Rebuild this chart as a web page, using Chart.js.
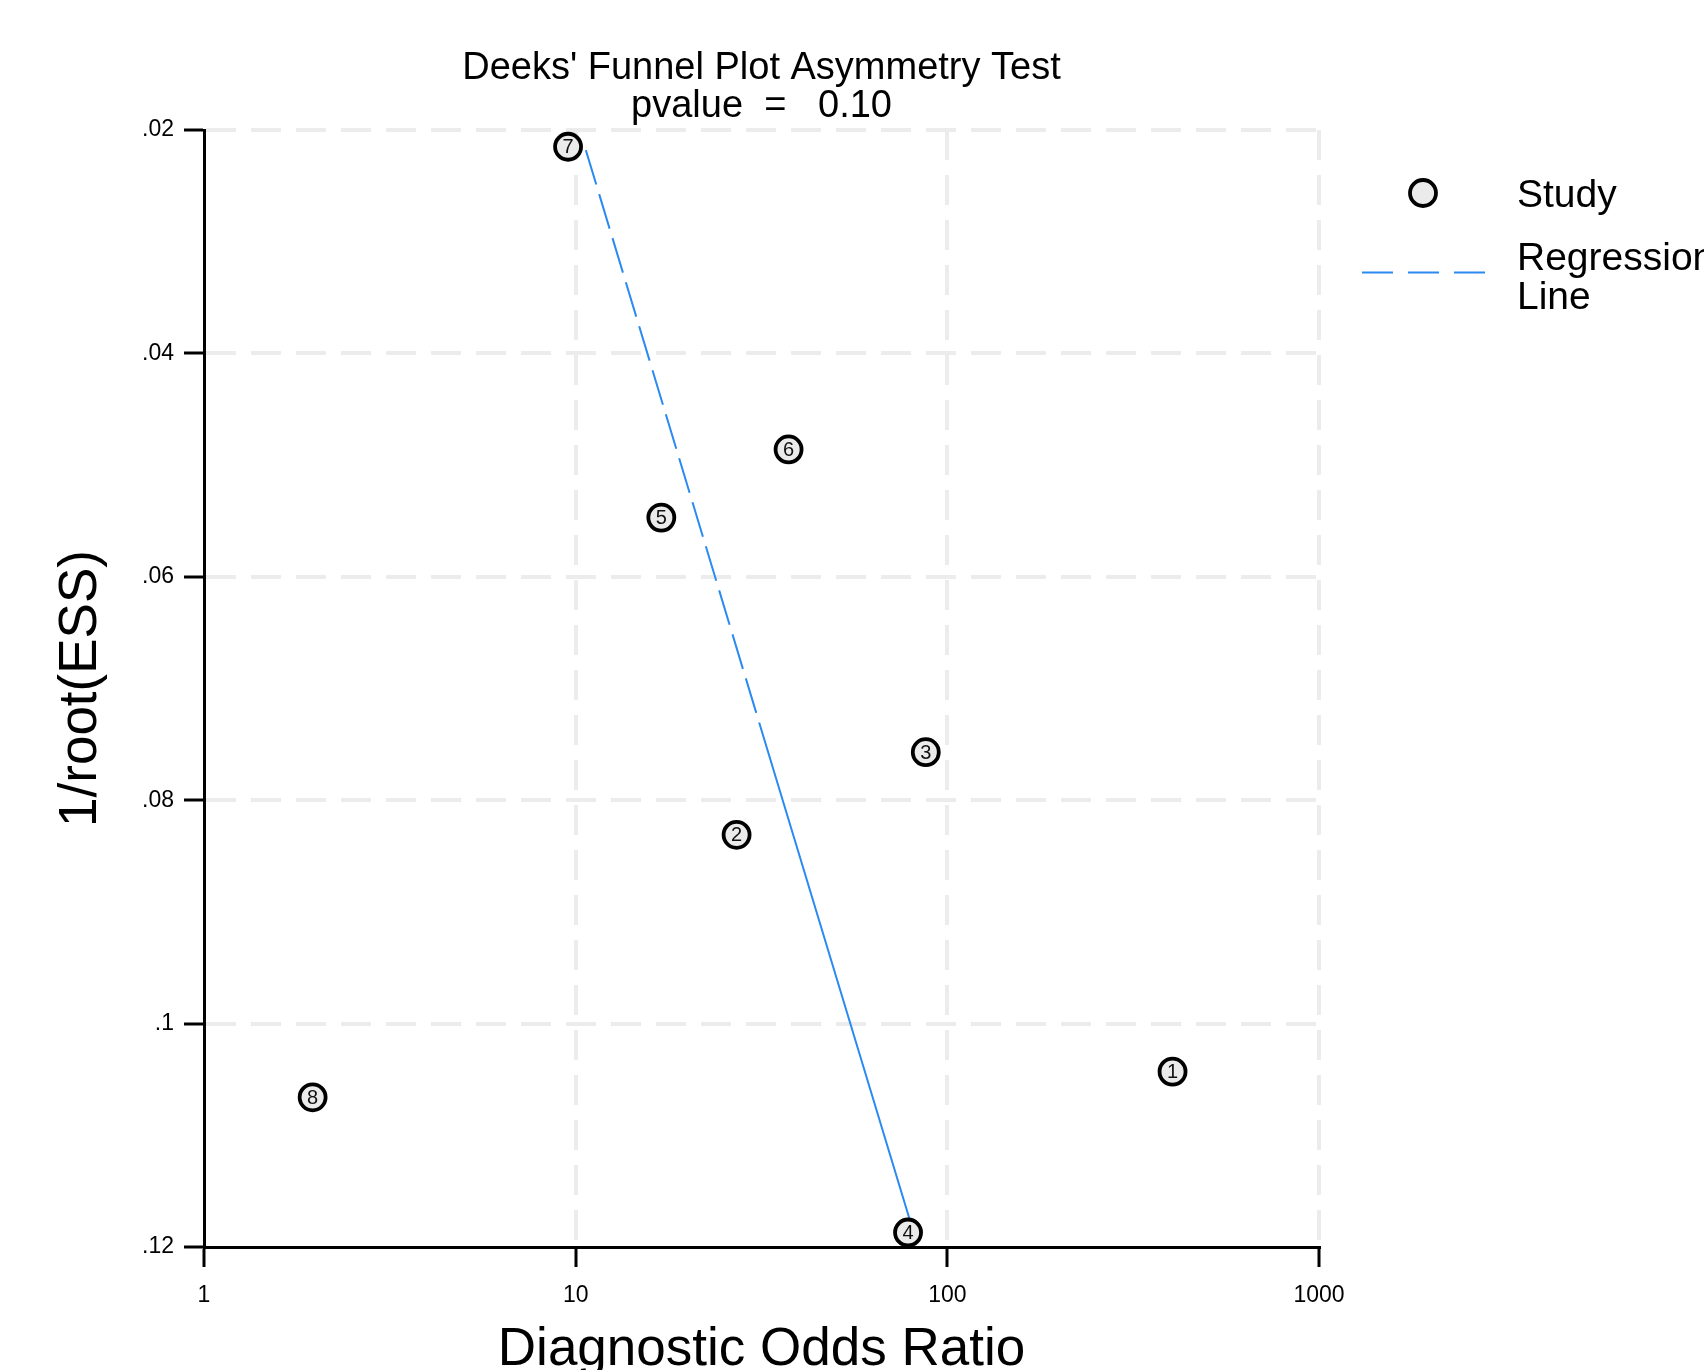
<!DOCTYPE html>
<html>
<head>
<meta charset="utf-8">
<title>Deeks' Funnel Plot</title>
<script src="https://cdn.jsdelivr.net/npm/chart.js@4.4.1/dist/chart.umd.min.js"></script>
<style>
    html, body { margin: 0; padding: 0; background: #fff; }
    #wrap { width: 1704px; height: 1370px; }
</style>
</head>
<body>
<div id="wrap"><canvas id="funnelChart" width="1704" height="1370"></canvas></div>
<script>
// --- Data ---
const studyIds = ['1', '2', '3', '4', '5', '6', '7', '8'];
const studyDor = [403.6, 27.1, 87.5, 78.4, 17.0, 37.4, 9.54, 1.96];
const studyInvRootEss = [0.1043, 0.0831, 0.0757, 0.1187, 0.0547, 0.0486, 0.0215, 0.1066];
const regressionDor = [10.65, 79.3];
const regressionInvRootEss = [0.0218, 0.1176];
const xTickValues = [1, 10, 100, 1000];
const yTickValues = [0.02, 0.04, 0.06, 0.08, 0.10, 0.12];
const titleLines = ["Deeks' Funnel Plot Asymmetry Test", 'pvalue  =   0.10'];

const FONT = "'Liberation Sans', Arial, Helvetica, sans-serif";
const BLUE = '#2a8af2';
const GRID = '#ececec';

// regression line: long dashes on the upper part, solid after that (like the Stata export)
const regressionDash = [];
for (let i = 0; i < 13; i++) regressionDash.push(36, 10);
regressionDash.push(3000, 0);

// y labels in Stata style: .02 .04 ... .1 .12
function formatY(v) {
    return v.toFixed(2).replace(/^0/, '').replace(/0$/, '');
}

// --- Plugin: numbers inside the study circles ---
const studyNumbers = {
    id: 'studyNumbers',
    afterDatasetsDraw(chart) {
        const meta = chart.getDatasetMeta(0);
        const ctx = chart.ctx;
        ctx.save();
        ctx.font = '20px ' + FONT;
        ctx.fillStyle = '#111';
        ctx.textAlign = 'center';
        ctx.textBaseline = 'middle';
        meta.data.forEach((pt, i) => {
            ctx.fillText(studyIds[i], pt.x, pt.y + 1);
        });
        ctx.restore();
    }
};

// --- Plugin: title + legend on the right ---
const titleAndLegend = {
    id: 'titleAndLegend',
    afterDraw(chart) {
        const ctx = chart.ctx;
        const area = chart.chartArea;
        const cx = (area.left + area.right) / 2;
        ctx.save();
        ctx.fillStyle = '#000';
        ctx.textAlign = 'center';
        ctx.textBaseline = 'middle';
        ctx.font = '38px ' + FONT;
        ctx.fillText(titleLines[0], cx, 69);
        ctx.fillText(titleLines[1], cx, 107);

        // legend: study marker
        const ds = chart.data.datasets;
        ctx.beginPath();
        ctx.arc(1423, 193, 13, 0, Math.PI * 2);
        ctx.fillStyle = ds[0].backgroundColor;
        ctx.fill();
        ctx.lineWidth = ds[0].borderWidth;
        ctx.strokeStyle = ds[0].borderColor;
        ctx.stroke();

        // legend: regression line sample
        ctx.beginPath();
        ctx.setLineDash([31, 15]);
        ctx.lineWidth = 2;
        ctx.strokeStyle = BLUE;
        ctx.moveTo(1362, 272.5);
        ctx.lineTo(1485, 272.5);
        ctx.stroke();
        ctx.setLineDash([]);

        ctx.fillStyle = '#000';
        ctx.textAlign = 'left';
        ctx.font = '39px ' + FONT;
        ctx.fillText(ds[0].label, 1517, 196);
        ctx.fillText('Regression', 1517, 259);
        ctx.fillText('Line', 1517, 298);
        ctx.restore();
    }
};

// --- Chart ---
function drawFunnelChart() {
    const ctx = document.getElementById('funnelChart').getContext('2d');
    const studyPoints = studyDor.map((d, i) => ({ x: d, y: studyInvRootEss[i] }));
    const regressionPoints = regressionDor.map((d, i) => ({ x: d, y: regressionInvRootEss[i] }));

    window.funnelChart = new Chart(ctx, {
        type: 'scatter',
        data: {
            datasets: [
                {
                    label: 'Study',
                    data: studyPoints,
                    pointRadius: 13,
                    pointHoverRadius: 13,
                    borderWidth: 3.8,
                    borderColor: '#000',
                    backgroundColor: '#ebebeb',
                    clip: false,
                    order: 1
                },
                {
                    label: 'Regression Line',
                    data: regressionPoints,
                    showLine: true,
                    borderColor: BLUE,
                    borderWidth: 2,
                    borderDash: regressionDash,
                    pointRadius: 0,
                    pointHoverRadius: 0,
                    clip: false,
                    order: 2
                }
            ]
        },
        options: {
            responsive: false,
            animation: false,
            devicePixelRatio: 1,
            layout: { padding: { left: 0, top: 130, right: 385, bottom: 0 } },
            plugins: {
                legend: { display: false },
                tooltip: { enabled: false },
                title: { display: false }
            },
            scales: {
                x: {
                    type: 'logarithmic',
                    min: 1,
                    max: 1000,
                    afterBuildTicks: s => { s.ticks = xTickValues.map(v => ({ value: v })); },
                    afterFit: s => { s.height = 123; },
                    ticks: {
                        color: '#000',
                        font: { family: FONT, size: 23 },
                        padding: 15,
                        maxRotation: 0,
                        autoSkip: false,
                        callback: v => String(v)
                    },
                    grid: {
                        color: c => (c.tick && c.tick.value === xTickValues[0] ? 'rgba(0,0,0,0)' : GRID),
                        lineWidth: 4,
                        tickLength: 20,
                        tickColor: '#000',
                        tickWidth: 3,
                        tickBorderDash: []
                    },
                    border: { color: '#000', width: 3, dash: [30, 15] },
                    title: {
                        display: true,
                        text: 'Diagnostic Odds Ratio',
                        color: '#000',
                        font: { family: FONT, size: 53, lineHeight: 0.75 },
                        padding: 0
                    }
                },
                y: {
                    type: 'linear',
                    reverse: true,
                    min: yTickValues[0],
                    max: yTickValues[yTickValues.length - 1],
                    afterBuildTicks: s => { s.ticks = yTickValues.map(v => ({ value: v })); },
                    afterFit: s => { s.width = 204; },
                    ticks: {
                        color: '#000',
                        font: { family: FONT, size: 23 },
                        padding: 10,
                        callback: v => formatY(v)
                    },
                    grid: {
                        color: c => (c.tick && Math.abs(c.tick.value - yTickValues[yTickValues.length - 1]) < 1e-9 ? 'rgba(0,0,0,0)' : GRID),
                        lineWidth: 4,
                        tickLength: 20,
                        tickColor: '#000',
                        tickWidth: 3,
                        tickBorderDash: []
                    },
                    border: { color: '#000', width: 3, dash: [30, 15] },
                    title: {
                        display: true,
                        text: '1/root(ESS)',
                        color: '#000',
                        font: { family: FONT, size: 53, lineHeight: 1.2 },
                        padding: { top: 50, bottom: 0 }
                    }
                }
            }
        },
        plugins: [studyNumbers, titleAndLegend]
    });
}

drawFunnelChart();
</script>
</body>
</html>
